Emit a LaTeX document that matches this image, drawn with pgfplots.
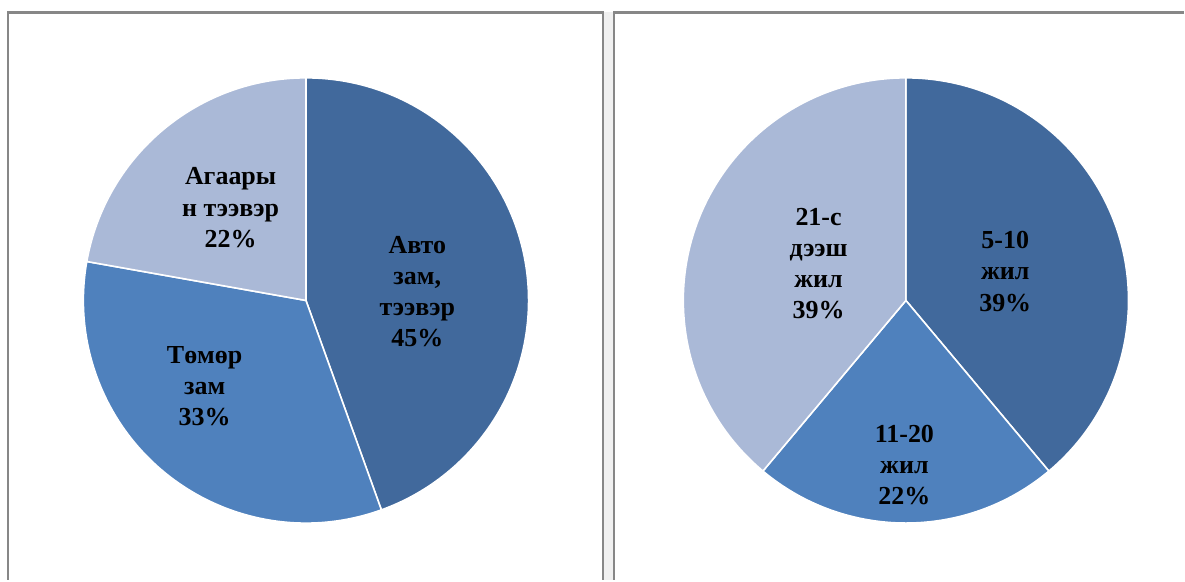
\documentclass[border=0pt]{standalone}
\usepackage{fontspec}
\setmainfont{Liberation Serif}
\usepackage{pgfplots}
\usepackage{pgfplotstable}
\pgfplotsset{compat=1.18}

\definecolor{cA}{HTML}{41699C}
\definecolor{cB}{HTML}{4F81BD}
\definecolor{cC}{HTML}{AAB9D7}
\definecolor{frame}{HTML}{878787}

% left pie: transport type
\pgfplotstableread{
label value
Avto 44.5
Tomor 33.3
Agaar 22.2
}\leftdata
% right pie: years
\pgfplotstableread{
label value
5-10 38.9
11-20 22.2
21+ 38.9
}\rightdata

\newcommand\pieangles[2]{% #1 table, #2 prefix
  \pgfplotstablegetelem{0}{value}\of#1\let\va\pgfplotsretval
  \pgfplotstablegetelem{1}{value}\of#1\let\vb\pgfplotsretval
  \pgfplotstablegetelem{2}{value}\of#1\let\vc\pgfplotsretval
  \pgfmathsetmacro\tot{\va+\vb+\vc}
  \pgfmathsetmacro\aone{90-360*(\va/\tot)}
  \pgfmathsetmacro\atwo{90-360*((\va+\vb)/\tot)}
  \expandafter\xdef\csname #2one\endcsname{\aone}%
  \expandafter\xdef\csname #2two\endcsname{\atwo}%
}
\pieangles{\leftdata}{L}
\pieangles{\rightdata}{R}

\def\Rad{111.5pt}
\tikzset{lbl/.style={align=center, text=black, inner sep=0pt, font=\bfseries\fontsize{13}{15.6}\selectfont}}

\begin{document}
\begin{tikzpicture}
\begin{axis}[hide axis, scale only axis, width=592.5pt, height=290.5pt,
  xmin=0, xmax=1185, ymin=0, ymax=581, clip=false]
\addplot[draw=none] coordinates {(0,0) (1185,581)};
% frames
\fill[gray!12] (axis cs:605,0) rectangle (axis cs:614,568.5);
\draw[frame, line width=1.1pt] (axis cs:8,0) -- (axis cs:8,568.5) -- (axis cs:604,568.5) -- (axis cs:604,0);
\draw[frame, line width=1.1pt] (axis cs:615,0) -- (axis cs:615,568.5) -- (axis cs:1186,568.5);
% left pie
\filldraw[cA, draw=white, line width=0.8pt] (axis cs:306.5,280) -- +(90:\Rad) arc[start angle=90, end angle=\Lone, radius=\Rad] -- cycle;
\filldraw[cB, draw=white, line width=0.8pt] (axis cs:306.5,280) -- +(\Lone:\Rad) arc[start angle=\Lone, end angle=\Ltwo, radius=\Rad] -- cycle;
\filldraw[cC, draw=white, line width=0.8pt] (axis cs:306.5,280) -- +(\Ltwo:\Rad) arc[start angle=\Ltwo, end angle=-270, radius=\Rad] -- cycle;
% right pie
\filldraw[cA, draw=white, line width=0.8pt] (axis cs:907.5,280) -- +(90:\Rad) arc[start angle=90, end angle=\Rone, radius=\Rad] -- cycle;
\filldraw[cB, draw=white, line width=0.8pt] (axis cs:907.5,280) -- +(\Rone:\Rad) arc[start angle=\Rone, end angle=\Rtwo, radius=\Rad] -- cycle;
\filldraw[cC, draw=white, line width=0.8pt] (axis cs:907.5,280) -- +(\Rtwo:\Rad) arc[start angle=\Rtwo, end angle=-270, radius=\Rad] -- cycle;
% labels
\node[lbl] at (axis cs:418,289) {Авто\\зам,\\тээвэр\\45\%};
\node[lbl] at (axis cs:205,194) {Төмөр\\зам\\33\%};
\node[lbl] at (axis cs:231,373) {Агаары\\н тээвэр\\22\%};
\node[lbl] at (axis cs:1007,309) {5-10\\жил\\39\%};
\node[lbl] at (axis cs:906,115) {11-20\\жил\\22\%};
\node[lbl] at (axis cs:820,317) {21-с\\дээш\\жил\\39\%};
\end{axis}
\end{tikzpicture}
\end{document}
